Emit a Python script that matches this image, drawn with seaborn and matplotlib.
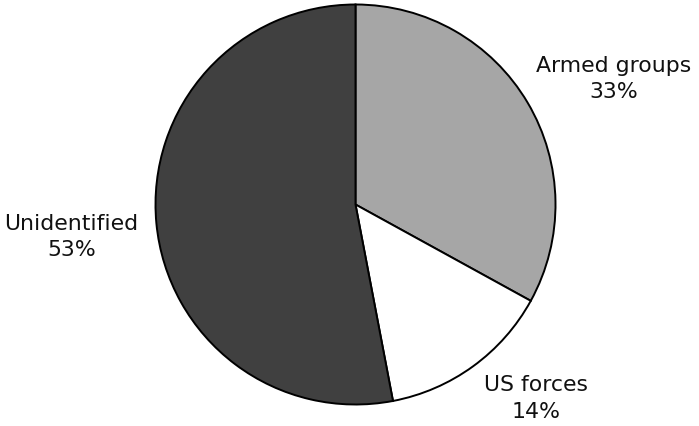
import matplotlib
matplotlib.use("Agg")
import matplotlib.pyplot as plt
import seaborn as sns

categories = ["Armed groups", "US forces", "Unidentified"]
shares = [33, 14, 53]
colors = ["#a6a6a6", "#ffffff", "#404040"]

sns.set_style("white")
plt.rcParams["font.family"] = ["DejaVu Sans"]

W, H = 699, 426
fig = plt.figure(figsize=(W / 100, H / 100), dpi=100)
cx, cy, r = 355.5, 204.5, 200
ax = fig.add_axes([(cx - r) / W, (H - cy - r) / H, 2 * r / W, 2 * r / H])

ax.pie(shares, colors=colors, startangle=90, counterclock=False, radius=1,
       wedgeprops=dict(edgecolor="black", linewidth=1.4))
ax.set_xlim(-1.0, 1.0)
ax.set_ylim(-1.0, 1.0)
ax.set_aspect("equal")
ax.axis("off")

label_pos = [(1.29, 0.627), (0.905, -0.97), (-1.42, -0.162)]
for name, val, (x, y) in zip(categories, shares, label_pos):
    ax.text(x, y, f"{name}\n{val}%", ha="center", va="center", fontsize=15.8,
            color="#111111", linespacing=1.38, clip_on=False)

fig.savefig("out.png", dpi=100)
